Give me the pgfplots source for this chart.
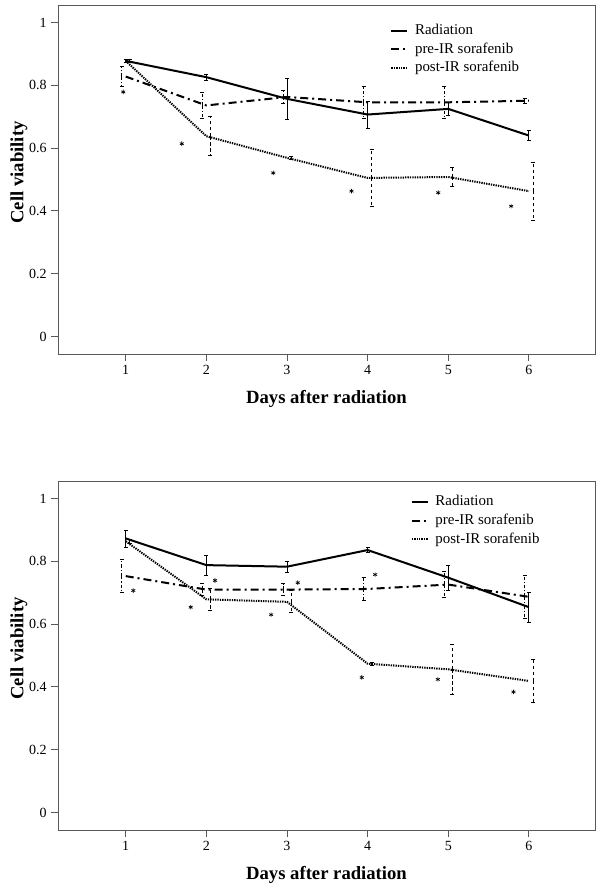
\documentclass[border=0pt]{standalone}
\usepackage{fontspec}
\setmainfont{Liberation Serif}
\usepackage{pgfplots}
\pgfplotsset{compat=1.18}

\pgfplotsset{
  panel/.style={
    width=402.75pt, height=261.75pt, scale only axis,
    xmin=0.16, xmax=6.82, ymin=-0.056, ymax=1.056,
    xtick={1,2,3,4,5,6}, ytick={0,0.2,0.4,0.6,0.8,1},
    tick align=outside, xtick pos=bottom, ytick pos=left,
    major tick length=5pt,
    axis line style={black!65, line width=0.7pt},
    tick style={black!65, line width=0.6pt},
    tick label style={font=\fontsize{10.5}{12}\selectfont},
    /pgf/number format/assume math mode=true,
    xlabel={Days after radiation},
    ylabel={Cell viability},
    label style={font=\fontsize{14}{16}\selectfont\bfseries},
    xlabel style={at={(axis description cs:0.5,-0.1275)}, anchor=center},
    ylabel style={at={(axis description cs:-0.0727,0.52)}, anchor=center},
    legend cell align=left,
    legend style={draw=none, fill=none, font=\fontsize{11.2}{13}\selectfont,
      nodes={inner sep=1pt, text height=9pt, text depth=3pt}},
    legend image code/.code={\draw[#1] (0pt,0pt) -- (12pt,0pt); \path (16pt,0pt);},
  },
  rad/.style={black, solid, mark=none, line width=1.5pt},
  pre/.style={black, mark=none, line width=1.5pt, dash pattern=on 6pt off 3pt on 1.5pt off 3pt},
  post/.style={black, mark=none, line width=1.5pt, dash pattern=on 1pt off 0.8pt},
  ebar/.style={forget plot, draw=none, mark=none,
    error bars/.cd, y dir=both, y explicit,
    error bar style={draw=black, line width=0.6pt, #1},
    error mark options={rotate=90, mark size=1.5pt, solid, draw=black, line width=0.6pt}},
  star/.style={forget plot, only marks, mark=asterisk, mark size=1.7pt, mark options={black, solid, line width=0.5pt}},
}

\begin{document}
\begin{tikzpicture}
\useasboundingbox (0,0) rectangle (450pt,-666.75pt);

% ---------- top panel ----------
\begin{axis}[panel, at={(43.5pt,-3.75pt)}, anchor=north west,
  legend style={at={(rel axis cs:0.611,0.962)}, anchor=north west}]
\addplot[rad] coordinates {(1,0.878) (2,0.826) (3,0.757) (4,0.707) (5,0.725) (6,0.640)};
\addlegendentry{Radiation}
\addplot[pre] coordinates {(1,0.828) (2,0.736) (3,0.763) (4,0.746) (5,0.746) (6,0.751)};
\addlegendentry{pre-IR sorafenib}
\addplot[post] coordinates {(1,0.878) (2,0.638) (3,0.569) (4,0.505) (5,0.508) (6,0.463)};
\addlegendentry{post-IR sorafenib}

\addplot[ebar={solid}] coordinates {
  (1,0.878) +- (0,0.004) (2,0.826) +- (0,0.010) (3,0.757) +- (0,0.066)
  (4,0.707) +- (0,0.043) (5,0.725) +- (0,0.020) (6,0.640) +- (0,0.015)};
\addplot[ebar={dash pattern=on 2.5pt off 1.5pt on 0.8pt off 1.5pt}] coordinates {
  (0.95,0.828) +- (0,0.031) (1.95,0.736) +- (0,0.040) (2.95,0.763) +- (0,0.022)
  (3.95,0.746) +- (0,0.050) (4.95,0.746) +- (0,0.050) (5.95,0.751) +- (0,0.009)};
\addplot[ebar={dash pattern=on 2.5pt off 2pt}] coordinates {
  (1.05,0.878) +- (0,0.004) (2.05,0.638) +- (0,0.062) (3.05,0.569) +- (0,0.006)
  (4.05,0.505) +- (0,0.090) (5.05,0.508) +- (0,0.029) (6.05,0.463) +- (0,0.093)};

\addplot[star] coordinates {(0.97,0.779) (1.695,0.614) (2.83,0.521) (3.80,0.463) (4.875,0.458) (5.78,0.415)};
\end{axis}

% ---------- bottom panel ----------
\begin{axis}[panel, at={(43.5pt,-360.75pt)}, anchor=north west,
  legend style={at={(rel axis cs:0.649,0.975)}, anchor=north west}]
\addplot[rad] coordinates {(1,0.873) (2,0.788) (3,0.783) (4,0.836) (5,0.748) (6,0.654)};
\addlegendentry{Radiation}
\addplot[pre] coordinates {(1,0.753) (2,0.710) (3,0.710) (4,0.712) (5,0.726) (6,0.687)};
\addlegendentry{pre-IR sorafenib}
\addplot[post] coordinates {(1,0.864) (2,0.679) (3,0.671) (4,0.474) (5,0.456) (6,0.419)};
\addlegendentry{post-IR sorafenib}

\addplot[ebar={solid}] coordinates {
  (1,0.873) +- (0,0.027) (2,0.788) +- (0,0.032) (3,0.783) +- (0,0.018)
  (4,0.836) +- (0,0.007) (5,0.748) +- (0,0.040) (6,0.654) +- (0,0.048)};
\addplot[ebar={dash pattern=on 2.5pt off 1.5pt on 0.8pt off 1.5pt}] coordinates {
  (0.95,0.753) +- (0,0.052) (1.95,0.710) +- (0,0.020) (2.95,0.710) +- (0,0.019)
  (3.95,0.712) +- (0,0.038) (4.95,0.726) +- (0,0.042) (5.95,0.687) +- (0,0.069)};
\addplot[ebar={dash pattern=on 2.5pt off 2pt}] coordinates {
  (1.05,0.864) +- (0,0.006) (2.05,0.679) +- (0,0.034) (3.05,0.671) +- (0,0.035)
  (4.05,0.474) +- (0,0.005) (5.05,0.456) +- (0,0.080) (6.05,0.419) +- (0,0.068)};

\addplot[star] coordinates {(1.094,0.707) (2.108,0.739) (3.134,0.732) (4.093,0.758)
  (1.806,0.654) (2.803,0.630) (3.928,0.430) (4.871,0.424) (5.809,0.384)};
\end{axis}
\end{tikzpicture}
\end{document}
